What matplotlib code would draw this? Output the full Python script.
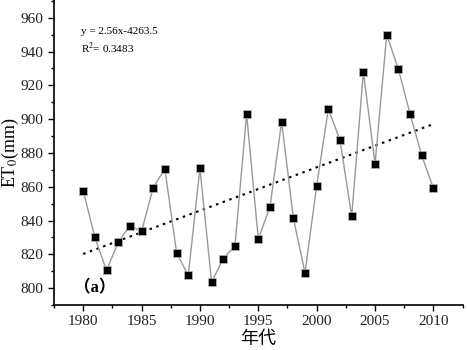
import numpy as np
import matplotlib
matplotlib.use("Agg")
import matplotlib.pyplot as plt
from matplotlib.ticker import MultipleLocator

years = np.arange(1980, 2011)
et0 = [857.7, 830, 810.5, 827, 837, 833.5, 859.5, 870.5, 821, 807.5,
       871, 803.5, 817.5, 825, 903, 829, 848, 898.5, 841.5, 809,
       860.5, 906, 887.5, 842.5, 928, 873.5, 950, 929.5, 903, 878.5, 859]

plt.rcParams['font.family'] = ['Liberation Serif', 'Noto Sans CJK SC']
plt.rcParams['mathtext.fontset'] = 'stix'

fig = plt.figure(figsize=(4.67, 3.5), dpi=100)
ax = fig.add_axes([0.1156, 0.1286, 0.875, 0.8714])

ax.plot(years, et0, color="#999999", linewidth=1.0, marker="s",
        markersize=5.5, markerfacecolor="black", markeredgecolor="#bbbbbb",
        markeredgewidth=0.5, zorder=3)

# linear trend
k, b = np.polyfit(years, et0, 1)
ax.plot(years, k * years + b, color="black", linestyle=(0, (1.2, 2.2)),
        linewidth=1.5, zorder=2)

ax.set_xlim(1977.5, 2012.5)
ax.set_ylim(790, 970.5)
ax.xaxis.set_major_locator(MultipleLocator(5))
ax.xaxis.set_minor_locator(MultipleLocator(2.5))
ax.yaxis.set_minor_locator(MultipleLocator(10))
ax.set_yticks(np.arange(800, 961, 20))
ax.tick_params(which="major", direction="out", length=4, width=1,
               labelsize=11, labelcolor="#222222")
ax.tick_params(which="minor", direction="out", length=2.5, width=1)

for s in ["top", "right"]:
    ax.spines[s].set_visible(False)
for s in ["left", "bottom"]:
    ax.spines[s].set_linewidth(1.2)

ax.set_xlabel("年代", fontsize=13, family=["Noto Sans CJK SC"], labelpad=1)
ax.set_ylabel(r"ET$_0$(mm)", fontsize=13)
ax.yaxis.set_label_coords(-0.08, 0.5)

ax.text(0.066, 0.89, "y = 2.56x-4263.5", transform=ax.transAxes, fontsize=8)
ax.text(0.066, 0.828, r"R$^2$= 0.3483", transform=ax.transAxes, fontsize=8)
ax.text(0.05, 0.04, "（a）", transform=ax.transAxes, fontsize=12,
        fontweight="bold", family=["Liberation Serif", "Noto Sans CJK SC"])

fig.savefig("out.png", dpi=100)
